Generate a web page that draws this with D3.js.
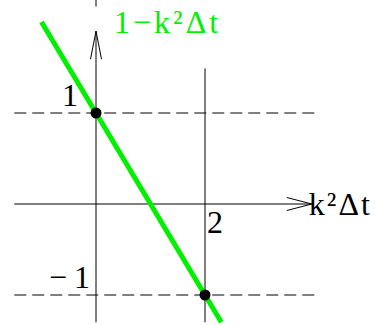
<!DOCTYPE html>
<html>
<head>
<meta charset="utf-8">
<script src="https://cdn.jsdelivr.net/npm/d3@7"></script>
<style>
  html, body { margin: 0; padding: 0; background: #fff; }
  svg { display: block; }
</style>
</head>
<body>
<svg id="chart" width="378" height="325"></svg>
<script>
// Amplification factor 1 - k²Δt against k²Δt
const lineX = [-1.0, 2.3];
const lineY = [2.0, -1.3];
const dotX = [0, 2];
const dotY = [1, -1];
const levelValues = [1, -1];
const levelLabels = ["1", "\u22121"];
const xTickValues = [2];
const xTickLabels = ["2"];
const xAxisTitle = "k\u00B2\u0394t";
const curveTitle = "1\u2212k\u00B2\u0394t";

const width = 378, height = 325;
const serif = "'Liberation Serif', 'Times New Roman', Times, serif";
const svg = d3.select("#chart").attr("font-family", serif);

const x = d3.scaleLinear().domain([0, 2]).range([96, 205]);
const y = d3.scaleLinear().domain([-1, 1]).range([295, 113]);

const black = "#000";
const green = "#00f000";

// dashed guides at the two levels
svg.selectAll("line.level")
  .data(levelValues)
  .join("line")
  .attr("class", "level")
  .attr("x1", x(-1.5)).attr("x2", x(4.02))
  .attr("y1", d => y(d)).attr("y2", d => y(d))
  .attr("stroke", black).attr("stroke-width", 1)
  .attr("stroke-dasharray", "12,6");

// vertical guide at x = 2
svg.selectAll("line.xguide")
  .data(xTickValues)
  .join("line")
  .attr("class", "xguide")
  .attr("x1", d => x(d)).attr("x2", d => x(d))
  .attr("y1", y(1.49)).attr("y2", y(-1.3))
  .attr("stroke", black).attr("stroke-width", 1);

// horizontal axis with open arrow head
const xEnd = x(3.96), yZero = y(0);
svg.append("line")
  .attr("x1", x(-1.5)).attr("x2", xEnd)
  .attr("y1", yZero).attr("y2", yZero)
  .attr("stroke", black).attr("stroke-width", 1);
svg.append("path")
  .attr("d", `M${xEnd - 25},${yZero - 6.5} L${xEnd},${yZero} L${xEnd - 25},${yZero + 6.5}`)
  .attr("fill", "none").attr("stroke", black).attr("stroke-width", 1);

// vertical axis with open arrow head
const x0 = x(0), yTop = y(1.9);
svg.append("line")
  .attr("x1", x0).attr("x2", x0)
  .attr("y1", y(-1.3)).attr("y2", yTop)
  .attr("stroke", black).attr("stroke-width", 1);
svg.append("path")
  .attr("d", `M${x0 - 5.5},${yTop + 28} L${x0},${yTop} L${x0 + 5.5},${yTop + 28}`)
  .attr("fill", "none").attr("stroke", black).attr("stroke-width", 1);
svg.append("line")
  .attr("x1", x0).attr("x2", x0)
  .attr("y1", y(2.25)).attr("y2", y(2.17))
  .attr("stroke", black).attr("stroke-width", 1);

// the straight line 1 - k²Δt
const line = d3.line().x(d => x(d[0])).y(d => y(d[1]));
svg.append("path")
  .datum(d3.zip(lineX, lineY))
  .attr("d", line)
  .attr("fill", "none")
  .attr("stroke", green)
  .attr("stroke-width", 5);

// marked points
svg.selectAll("circle.pt")
  .data(d3.zip(dotX, dotY))
  .join("circle")
  .attr("class", "pt")
  .attr("cx", d => x(d[0])).attr("cy", d => y(d[1]))
  .attr("r", 5.5)
  .attr("fill", black);

// level labels: the positive one sits clear of the line, the negative one hugs the axis
svg.selectAll("text.level")
  .data(d3.zip(levelValues, levelLabels))
  .join("text")
  .attr("class", "level")
  .attr("x", d => d[0] > 0 ? x0 - 11 : x0 + 1)
  .attr("y", d => y(d[0]) - 7)
  .attr("text-anchor", "end")
  .attr("font-size", 32)
  .attr("letter-spacing", 7)
  .attr("fill", black)
  .text(d => d[1]);

// x tick label
svg.selectAll("text.xtick")
  .data(d3.zip(xTickValues, xTickLabels))
  .join("text")
  .attr("class", "xtick")
  .attr("x", d => x(d[0]) + 2)
  .attr("y", yZero + 29)
  .attr("font-size", 32)
  .attr("fill", black)
  .text(d => d[1]);

// axis titles
svg.append("text")
  .attr("x", xEnd - 3)
  .attr("y", yZero + 11)
  .attr("font-size", 32)
  .attr("letter-spacing", 2)
  .attr("fill", black)
  .text(xAxisTitle);

svg.append("text")
  .attr("x", x(0) + 18)
  .attr("y", 33)
  .attr("font-size", 32)
  .attr("letter-spacing", 3)
  .attr("fill", green)
  .text(curveTitle);
</script>
</body>
</html>
